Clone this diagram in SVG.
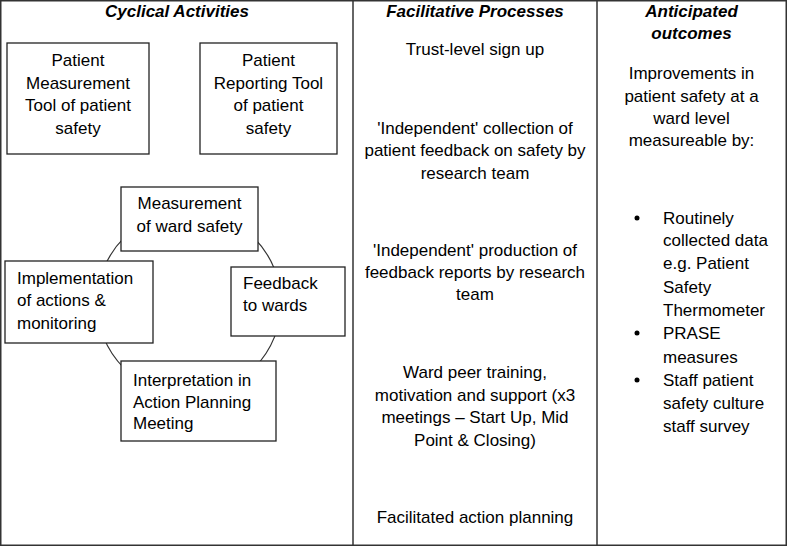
<svg xmlns="http://www.w3.org/2000/svg" width="787" height="546" viewBox="0 0 787 546">
<style>
text{font-family:"Liberation Sans",Arial,sans-serif;font-size:17px;fill:#000}
.h{font-weight:bold;font-style:italic}
.c{text-anchor:middle}
.box{fill:#fff;stroke:#222;stroke-width:1.3}
.frame{fill:none;stroke:#333;stroke-width:1.5}
</style>
<rect width="787" height="546" fill="#fff"/>
<g id="table">
<rect class="frame" x="0.75" y="0.75" width="785.5" height="544.5"/>
<line class="frame" x1="353" y1="0" x2="353" y2="546"/>
<line class="frame" x1="597" y1="0" x2="597" y2="546"/>
</g>
<g id="headers">
<text class="h c" x="177" y="17">Cyclical Activities</text>
<text class="h c" x="475" y="17">Facilitative Processes</text>
<text class="h c" x="691.5" y="17">Anticipated</text>
<text class="h c" x="691.5" y="39">outcomes</text>
</g>
<g id="connectors">
<circle cx="189" cy="303" r="92" fill="none" stroke="#333" stroke-width="1.2"/>
</g>
<g id="pmt">
<rect class="box" x="7" y="43" width="142" height="111"/>
<text class="c" x="78" y="66">Patient</text>
<text class="c" x="78" y="89">Measurement</text>
<text class="c" x="78" y="111">Tool of patient</text>
<text class="c" x="78" y="134">safety</text>
</g>
<g id="prt">
<rect class="box" x="200" y="43" width="137" height="111"/>
<text class="c" x="268.5" y="66">Patient</text>
<text class="c" x="268.5" y="89">Reporting Tool</text>
<text class="c" x="268.5" y="111">of patient</text>
<text class="c" x="268.5" y="134">safety</text>
</g>
<g id="measurement">
<rect class="box" x="121" y="187" width="137" height="64"/>
<text class="c" x="189.5" y="209">Measurement</text>
<text class="c" x="189.5" y="232">of ward safety</text>
</g>
<g id="implementation">
<rect class="box" x="5" y="261" width="148" height="82"/>
<text x="17" y="284">Implementation</text>
<text x="17" y="306">of actions &amp;</text>
<text x="17" y="329">monitoring</text>
</g>
<g id="feedback">
<rect class="box" x="231" y="267" width="114" height="69"/>
<text x="243" y="289">Feedback</text>
<text x="243" y="311">to wards</text>
</g>
<g id="interpretation">
<rect class="box" x="121" y="361" width="155" height="80"/>
<text x="133" y="386">Interpretation in</text>
<text x="133" y="408">Action Planning</text>
<text x="133" y="429">Meeting</text>
</g>
<g id="facilitative">
<text class="c" x="475" y="55">Trust-level sign up</text>
<text class="c" x="475" y="134">'Independent' collection of</text>
<text class="c" x="475" y="156">patient feedback on safety by</text>
<text class="c" x="475" y="179">research team</text>
<text class="c" x="475" y="256">'Independent' production of</text>
<text class="c" x="475" y="278">feedback reports by research</text>
<text class="c" x="475" y="300">team</text>
<text class="c" x="475" y="378">Ward peer training,</text>
<text class="c" x="475" y="401">motivation and support (x3</text>
<text class="c" x="475" y="423">meetings – Start Up, Mid</text>
<text class="c" x="475" y="446">Point &amp; Closing)</text>
<text class="c" x="475" y="523">Facilitated action planning</text>
</g>
<g id="outcomes">
<text class="c" x="691.5" y="79">Improvements in</text>
<text class="c" x="691.5" y="102">patient safety at a</text>
<text class="c" x="691.5" y="124">ward level</text>
<text class="c" x="691.5" y="146">measureable by:</text>
<circle cx="637" cy="218" r="2.5"/>
<text x="663" y="224">Routinely</text>
<text x="663" y="246">collected data</text>
<text x="663" y="269">e.g. Patient</text>
<text x="663" y="293">Safety</text>
<text x="663" y="316">Thermometer</text>
<circle cx="637" cy="333" r="2.5"/>
<text x="663" y="339">PRASE</text>
<text x="663" y="363">measures</text>
<circle cx="637" cy="380" r="2.5"/>
<text x="663" y="386">Staff patient</text>
<text x="663" y="409">safety culture</text>
<text x="663" y="432">staff survey</text>
</g>
</svg>
